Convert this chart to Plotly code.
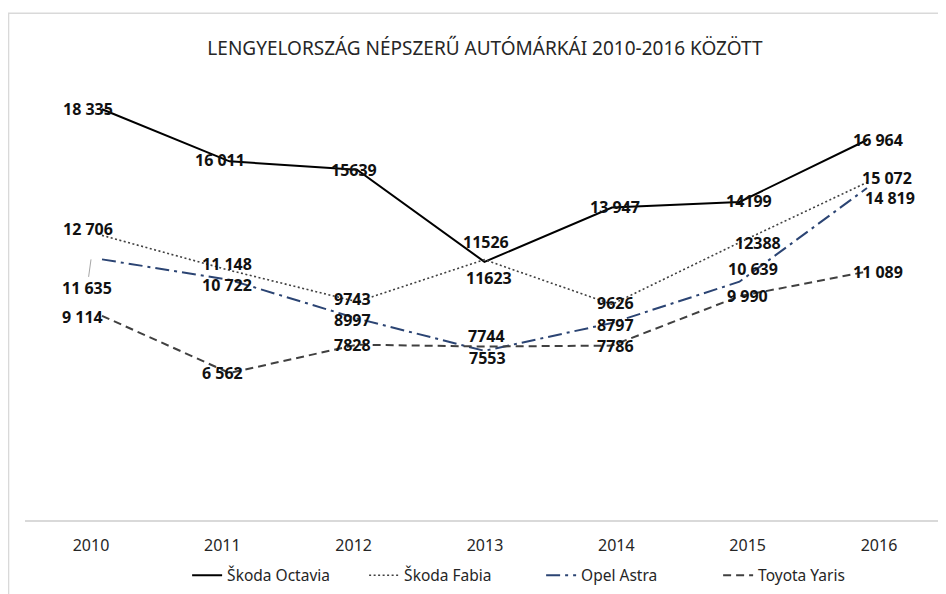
import plotly.graph_objects as go

# ---- data ----
years = ["2010", "2011", "2012", "2013", "2014", "2015", "2016"]
octavia = [18335, 16011, 15639, 11526, 13947, 14199, 16964]
fabia = [12706, 11148, 9743, 11623, 9626, 12388, 15072]
astra = [11635, 10722, 8997, 7553, 8797, 10639, 14819]
yaris = [9114, 6562, 7828, 7744, 7786, 9990, 11089]
series_names = ["Škoda Octavia", "Škoda Fabia", "Opel Astra", "Toyota Yaris"]
title_text = "LENGYELORSZÁG NÉPSZERŰ AUTÓMÁRKÁI 2010-2016 KÖZÖTT"

# label formatting: True -> thousands separated by a space
octavia_sp = [True, True, False, False, True, False, True]
fabia_sp = [True, True, False, False, False, False, True]
astra_sp = [True, True, False, False, False, True, True]
yaris_sp = [True, True, False, False, False, True, True]

# ---- styles / label offsets (screen px, dy positive = down) ----
styles = [
    dict(color="#000000", width=2, dash="solid"),
    dict(color="#404040", width=1.6, dash="2px,2.5px"),
    dict(color="#2b4473", width=2, dash="14px,5px,3px,5px"),
    dict(color="#404040", width=2, dash="8px,5px"),
]
offsets = [
    [(-3, 0), (-2, -1), (0, 0), (1, -20), (-1, -1), (1, -1), (-1, 0)],
    [(-3, -6), (5, -6), (-1, -3), (4, 18), (-1, -1), (10, 0), (8, -4)],
    [(-4, 29), (5, 5), (-1, 2), (3, 7), (-1, 2), (5, -13), (11, 10)],
    [(-9, 1), (0, 0), (-1, 0), (2, -11), (-1, 0), (0, 0), (-1, 0)],
]

all_values = [octavia, fabia, astra, yaris]
all_sp = [octavia_sp, fabia_sp, astra_sp, yaris_sp]

W, H = 938, 586
ML, MR, MT, MB = 17, 1, 64, 72
PW = W - ML - MR
XR = [-0.604, 6.612]        # line axis
XR2 = [-0.5026, 6.5026]     # tick-label axis


def px(i, r):
    return (i - r[0]) / (r[1] - r[0]) * PW


def fmt(v, sp):
    s = str(v)
    if sp and v >= 1000:
        return s[:-3] + " " + s[-3:]
    return s


fig = go.Figure()
for name, vals, st in zip(series_names, all_values, styles):
    fig.add_trace(go.Scatter(
        x=years, y=vals, mode="lines", name=name,
        line=dict(color=st["color"], width=st["width"], dash=st["dash"]),
        hoverinfo="skip", xaxis="x", yaxis="y",
    ))

# helper invisible trace so the tick-label axis exists
fig.add_trace(go.Scatter(x=years, y=octavia, mode="markers", marker=dict(opacity=0),
                         showlegend=False, hoverinfo="skip", xaxis="x2", yaxis="y"))

annotations = []
for si, (vals, sps) in enumerate(zip(all_values, all_sp)):
    for i, (v, sp) in enumerate(zip(vals, sps)):
        dx, dy = offsets[si][i]
        base = px(i, XR2) - px(i, XR)
        a = dict(x=i, y=v, xref="x", yref="y", text="<b>" + fmt(v, sp) + "</b>",
                 font=dict(family="Noto Sans", size=16, color="#111111"),
                 showarrow=False, xshift=base + dx, yshift=-dy, borderpad=0)
        if si == 2 and i == 0:
            a.update(showarrow=True, ax=dx, ay=dy, xshift=base, yshift=0,
                     arrowhead=0, arrowwidth=1, arrowcolor="#a6a6a6", standoff=0)
        annotations.append(a)

fig.update_layout(
    width=W, height=H,
    margin=dict(l=ML, r=MR, t=MT, b=MB),
    paper_bgcolor="white", plot_bgcolor="white",
    title=dict(text=title_text, x=0.5085, y=0.9317, xref="container", yref="container",
               xanchor="center", yanchor="middle",
               font=dict(family="Noto Sans", size=19, color="#262626")),
    xaxis=dict(type="category", range=XR, showticklabels=False,
               showgrid=False, zeroline=False, showline=False, fixedrange=True),
    xaxis2=dict(type="category", overlaying="x", side="bottom", anchor="y",
                range=XR2, showgrid=False, zeroline=False,
                showline=True, linecolor="#d9d9d9", linewidth=1.5,
                ticks="", ticklabelstandoff=10,
                tickfont=dict(family="Noto Sans", size=16, color="#262626")),
    yaxis=dict(range=[0, 20000], visible=False, fixedrange=True),
    legend=dict(orientation="h", x=0.561, xanchor="center", y=-0.1244, yanchor="middle",
                font=dict(family="Noto Sans", size=15.5, color="#262626"),
                itemwidth=30, entrywidth=132, bgcolor="rgba(0,0,0,0)"),
    annotations=annotations,
    shapes=[dict(type="rect", xref="paper", yref="paper",
                 x0=-0.0179, x1=1.05, y0=-0.25, y1=1.131,
                 line=dict(color="#d9d9d9", width=1.5), fillcolor="rgba(0,0,0,0)",
                 layer="below")],
    showlegend=True,
)

fig.write_html("out.html")
